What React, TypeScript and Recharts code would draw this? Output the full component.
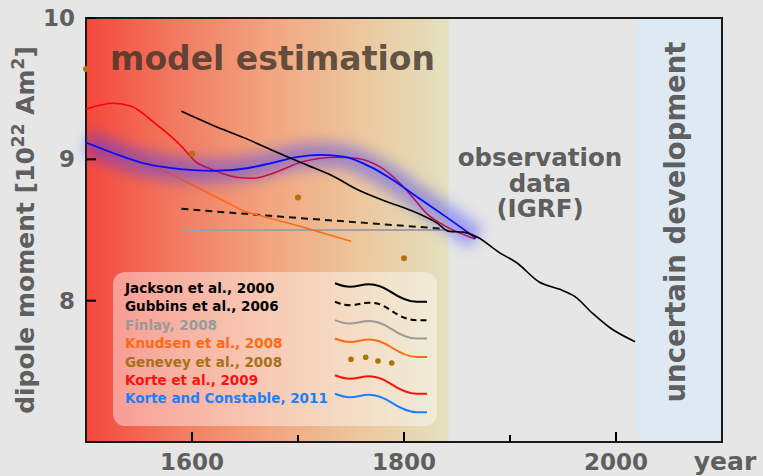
import React from "react";
import {
  LineChart,
  Line,
  XAxis,
  YAxis,
  ReferenceArea,
  Legend,
} from "recharts";

// years / dipole moment values
const jacksonYears = [1590, 1620, 1650, 1674, 1705, 1736, 1755, 1784, 1806, 1831, 1843, 1856, 1869, 1890, 1906, 1928, 1947, 1961, 1978, 1994, 2018];
const jacksonValues = [9.34, 9.24, 9.15, 9.07, 8.97, 8.87, 8.79, 8.7, 8.64, 8.55, 8.49, 8.485, 8.45, 8.34, 8.27, 8.13, 8.08, 8.03, 7.91, 7.81, 7.71];

const gubbinsYears = [1590, 1674, 1835];
const gubbinsValues = [8.65, 8.6, 8.51];

const finlayYears = [1590, 1842];
const finlayValues = [8.5, 8.5];

const knudsenYears = [1550, 1600, 1650, 1700, 1750];
const knudsenValues = [9.01, 8.82, 8.63, 8.53, 8.42];

const geneveyYears = [1500, 1600, 1700, 1800];
const geneveyValues = [9.64, 9.04, 8.73, 8.3];

const korteYears = [1500, 1526, 1542, 1567, 1589, 1604, 1620, 1642, 1658, 1674, 1705, 1736, 1755, 1777, 1793, 1809, 1821, 1840, 1867];
const korteValues = [9.355, 9.397, 9.378, 9.243, 9.1, 8.98, 8.925, 8.873, 8.866, 8.895, 8.984, 9.015, 9.008, 8.948, 8.854, 8.725, 8.619, 8.524, 8.437];

const kcYears = [1500, 1526, 1557, 1589, 1620, 1652, 1674, 1699, 1721, 1743, 1768, 1787, 1812, 1837, 1868];
const kcValues = [9.118, 9.043, 8.967, 8.93, 8.918, 8.937, 8.972, 9.015, 9.031, 9.019, 8.948, 8.866, 8.736, 8.607, 8.442];

const xTicks = [1600, 1700, 1800, 1900, 2000];
const xLabelled = [1600, 1800, 2000];
const yTicks = [8, 9, 10];

const legendItems = [
  { name: "Jackson et al., 2000", color: "#000000", line: "#000000", dash: "" },
  { name: "Gubbins et al., 2006", color: "#000000", line: "#000000", dash: "6 4" },
  { name: "Finlay, 2008", color: "#9a9a9a", line: "#9a9a9a", dash: "" },
  { name: "Knudsen et al., 2008", color: "#ff6a10", line: "#ff6a10", dash: "" },
  { name: "Genevey et al., 2008", color: "#a8701a", line: "", dash: "" },
  { name: "Korte et al., 2009", color: "#ff1010", line: "#ff1010", dash: "" },
  { name: "Korte and Constable, 2011", color: "#1a80ff", line: "#1a80ff", dash: "" },
];

const toSeries = (years: number[], values: number[]) =>
  years.map((year, i) => ({ year, v: values[i] }));

const jackson = toSeries(jacksonYears, jacksonValues);
const gubbins = toSeries(gubbinsYears, gubbinsValues);
const finlay = toSeries(finlayYears, finlayValues);
const knudsen = toSeries(knudsenYears, knudsenValues);
const genevey = toSeries(geneveyYears, geneveyValues);
const korte = toSeries(korteYears, korteValues);
const kc = toSeries(kcYears, kcValues);

const FONT = "'DejaVu Sans', sans-serif";
const GREY = "#5f5f5f";

const squiggle = "M0,0 C5,2 9,3.5 15,3.5 C22,3.5 27,1 34,1 C42,1 47,3 55,8 C64,14 72,18.5 82,18.5 L92,18.5";

function LegendBox() {
  return (
    <div
      style={{
        width: 324,
        height: 154,
        borderRadius: 12,
        background: "rgba(255,255,255,0.42)",
      }}
    >
      <svg width={324} height={154} style={{ display: "block" }}>
        {legendItems.map((item, i) => {
          const base = 21 + i * 18.4;
          const top = 11.3 + i * 18.4;
          return (
            <g key={item.name}>
              <text
                x={12}
                y={base}
                fontFamily={FONT}
                fontWeight="bold"
                fontSize={13.5}
                fill={item.color}
              >
                {item.name}
              </text>
              {item.line ? (
                <path
                  d={squiggle}
                  transform={`translate(222,${top})`}
                  fill="none"
                  stroke={item.line}
                  strokeWidth={2}
                  strokeDasharray={item.dash || undefined}
                />
              ) : (
                <g fill="#b0700a">
                  <circle cx={238} cy={87.3} r={2.8} />
                  <circle cx={252.7} cy={85.3} r={2.8} />
                  <circle cx={265} cy={89} r={2.8} />
                  <circle cx={278.7} cy={91} r={2.8} />
                </g>
              )}
            </g>
          );
        })}
      </svg>
    </div>
  );
}

const YTick = ({ x, y, payload }: any) => (
  <g>
    <line x1={x + 11} x2={x + 21} y1={y} y2={y} stroke="#000" strokeWidth={2} />
    <text
      x={x}
      y={y}
      textAnchor="end"
      dominantBaseline="central"
      fontFamily={FONT}
      fontWeight="bold"
      fontSize={23}
      fill={GREY}
    >
      {payload.value}
    </text>
  </g>
);

const XTick = ({ x, y, payload }: any) => {
  const labelled = xLabelled.includes(payload.value);
  return (
    <g>
      <line x1={x} x2={x} y1={y} y2={y - (labelled ? 10 : 7)} stroke="#000" strokeWidth={2} />
      {labelled && (
        <text
          x={x}
          y={y + 28}
          textAnchor="middle"
          fontFamily={FONT}
          fontWeight="bold"
          fontSize={23}
          fill={GREY}
        >
          {payload.value}
        </text>
      )}
    </g>
  );
};

// annotation texts, drawn over the plot
function Annotations() {
  return (
    <svg
      width={763}
      height={476}
      style={{ position: "absolute", left: 0, top: 0, pointerEvents: "none" }}
    >
      <text x={110} y={70} fontFamily={FONT} fontWeight="bold" fontSize={33} fill="#3c3228" fillOpacity={0.8}>
        model estimation
      </text>
      <text textAnchor="middle" fontFamily={FONT} fontWeight="bold" fontSize={24.5} fill={GREY}>
        <tspan x={540} y={166}>observation</tspan>
        <tspan x={540} y={192}>data</tspan>
        <tspan x={540} y={217}>(IGRF)</tspan>
      </text>
      <text
        transform="translate(685,222) rotate(-90)"
        textAnchor="middle"
        fontFamily={FONT}
        fontWeight="bold"
        fontSize={27.5}
        fill={GREY}
      >
        uncertain development
      </text>
      <text
        transform="translate(34,230) rotate(-90)"
        textAnchor="middle"
        fontFamily={FONT}
        fontWeight="bold"
        fontSize={25}
        fill={GREY}
      >
        dipole moment [10
        <tspan fontSize={17} dy={-10}>22</tspan>
        <tspan dy={10}> Am</tspan>
        <tspan fontSize={17} dy={-10}>2</tspan>
        <tspan dy={10}>]</tspan>
      </text>
      <text x={725} y={470} textAnchor="middle" fontFamily={FONT} fontWeight="bold" fontSize={25} fill={GREY}>
        year
      </text>
    </svg>
  );
}

export default function App() {
  return (
    <div style={{ width: 763, height: 476, background: "#e6e6e6", position: "relative" }}>
      <style>{`body{margin:0;background:#e6e6e6} .glow{filter:blur(7px)}`}</style>
      <LineChart
        width={763}
        height={476}
        margin={{ top: 18, right: 41, bottom: 0, left: 0 }}
      >
        <defs>
          <linearGradient id="bgGrad" x1="0" y1="0" x2="1" y2="0">
            <stop offset="0%" stopColor="#f4473d" />
            <stop offset="25%" stopColor="#f27a60" />
            <stop offset="50%" stopColor="#f2a47f" />
            <stop offset="75%" stopColor="#ecc69d" />
            <stop offset="100%" stopColor="#e3e1bf" />
          </linearGradient>
        </defs>
        <XAxis
          type="number"
          dataKey="year"
          domain={[1500, 2100]}
          ticks={xTicks}
          allowDataOverflow
          height={34}
          tickSize={0}
          tickMargin={0}
          tick={<XTick />}
          axisLine={false}
        />
        <YAxis
          type="number"
          domain={[7, 10]}
          ticks={yTicks}
          allowDataOverflow
          width={86}
          tickSize={0}
          tickMargin={11}
          tick={<YTick />}
          axisLine={false}
        />
        <ReferenceArea x1={1500} x2={1842} y1={7} y2={10} fill="url(#bgGrad)" fillOpacity={1} stroke="none" />
        <ReferenceArea x1={2019} x2={2100} y1={7} y2={10} fill="#ddeaf3" fillOpacity={1} stroke="none" />

        <Legend
          layout="vertical"
          verticalAlign="middle"
          align="center"
          content={() => <LegendBox />}
          wrapperStyle={{ left: 113, top: 272, width: 324, height: 154 }}
        />

        <Line data={finlay} dataKey="v" stroke="#a0a0a0" strokeWidth={2} dot={false} isAnimationActive={false} />
        <Line data={gubbins} dataKey="v" stroke="#111" strokeWidth={2} strokeDasharray="7 5" dot={false} isAnimationActive={false} />
        <Line data={knudsen} dataKey="v" type="linear" stroke="#ff6a10" strokeWidth={1.6} dot={false} isAnimationActive={false} />
        <Line
          data={genevey}
          dataKey="v"
          stroke="none"
          dot={{ r: 3, fill: "#b8700a", stroke: "none", clipDot: false }}
          isAnimationActive={false}
        />
        <Line data={korte} dataKey="v" type="monotone" stroke="#ff0000" strokeWidth={1.6} dot={false} isAnimationActive={false} />
        <Line
          data={kc}
          dataKey="v"
          type="monotone"
          className="glow"
          stroke="#3535ff"
          strokeOpacity={0.42}
          strokeWidth={24}
          dot={false}
          isAnimationActive={false}
        />
        <Line data={kc} dataKey="v" type="monotone" stroke="#0a0aff" strokeWidth={1.8} dot={false} isAnimationActive={false} />
        <Line data={jackson} dataKey="v" type="monotone" stroke="#000" strokeWidth={1.6} dot={false} isAnimationActive={false} />

        <ReferenceArea x1={1500} x2={2100} y1={7} y2={10} fill="none" stroke="#1a1a1a" strokeWidth={2} />
      </LineChart>
      <Annotations />
    </div>
  );
}
